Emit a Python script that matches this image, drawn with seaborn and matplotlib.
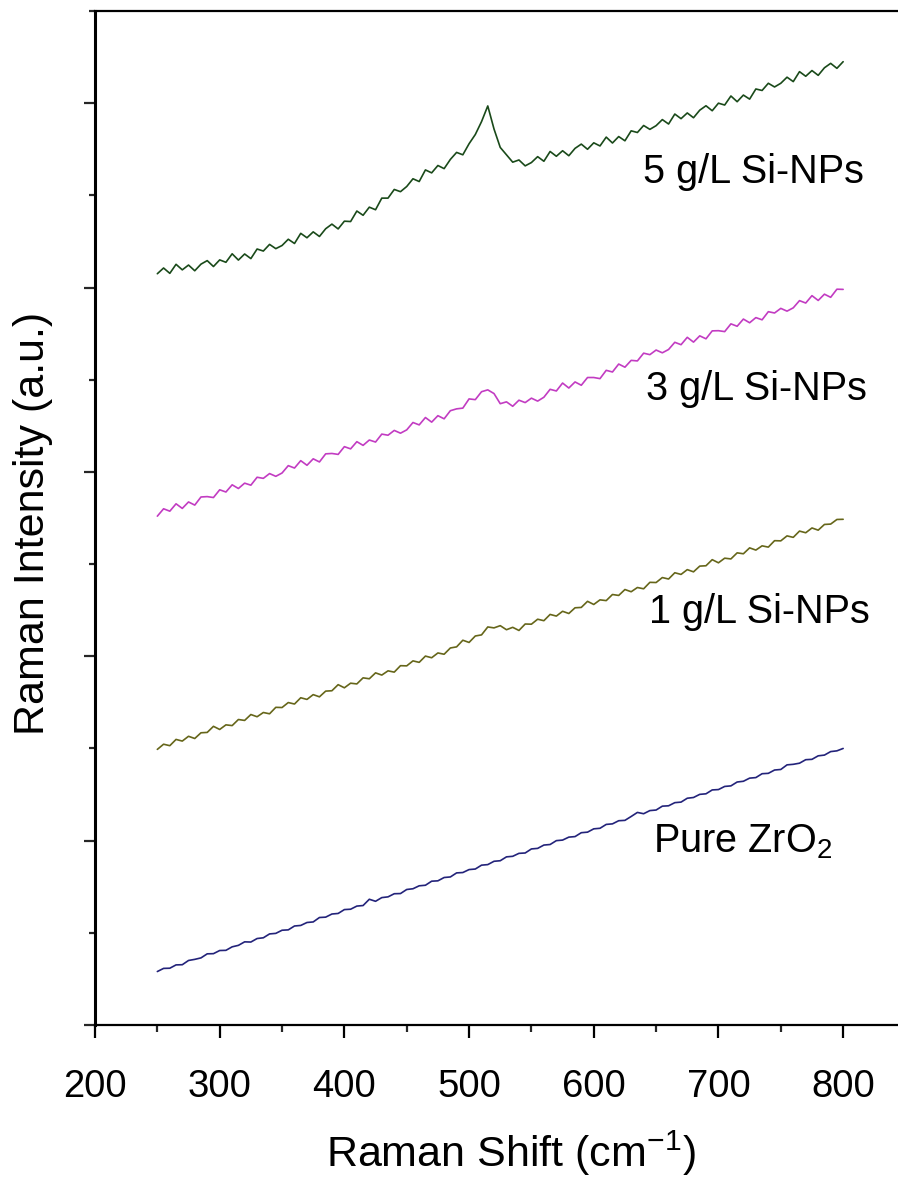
import matplotlib
matplotlib.use("Agg")
import matplotlib.pyplot as plt
from matplotlib.ticker import MultipleLocator
import pandas as pd
import seaborn as sns
import numpy as np

# Raman shift axis (cm-1), 250..800 in steps of 5
shift = list(range(250, 801, 5))

pure_zro2 = [
    0.290, 0.307, 0.308, 0.326, 0.327, 0.350, 0.356, 0.364, 0.386, 0.387,
    0.404, 0.405, 0.424, 0.432, 0.451, 0.450, 0.469, 0.473, 0.494, 0.497,
    0.514, 0.516, 0.537, 0.540, 0.556, 0.559, 0.583, 0.585, 0.602, 0.605,
    0.626, 0.628, 0.645, 0.648, 0.682, 0.671, 0.691, 0.695, 0.712, 0.713,
    0.735, 0.739, 0.755, 0.758, 0.780, 0.782, 0.800, 0.803, 0.825, 0.827,
    0.843, 0.846, 0.867, 0.870, 0.888, 0.891, 0.912, 0.915, 0.931, 0.933,
    0.955, 0.958, 0.976, 0.979, 1.000, 1.003, 1.019, 1.022, 1.043, 1.046,
    1.064, 1.067, 1.088, 1.091, 1.108, 1.110, 1.131, 1.153, 1.146, 1.163,
    1.166, 1.187, 1.189, 1.206, 1.209, 1.230, 1.234, 1.251, 1.254, 1.275,
    1.277, 1.294, 1.297, 1.318, 1.322, 1.339, 1.342, 1.363, 1.365, 1.383,
    1.386, 1.411, 1.414, 1.420, 1.439, 1.441, 1.460, 1.464, 1.483, 1.487,
    1.500,
]

si_1gl = [
    1.495, 1.523, 1.515, 1.549, 1.540, 1.566, 1.554, 1.585, 1.587, 1.620,
    1.603, 1.628, 1.624, 1.657, 1.652, 1.684, 1.672, 1.695, 1.688, 1.723,
    1.722, 1.749, 1.741, 1.775, 1.766, 1.792, 1.780, 1.811, 1.813, 1.846,
    1.829, 1.854, 1.850, 1.883, 1.878, 1.910, 1.898, 1.921, 1.914, 1.949,
    1.948, 1.975, 1.967, 2.001, 1.992, 2.018, 2.011, 2.045, 2.051, 2.087,
    2.075, 2.110, 2.116, 2.159, 2.154, 2.166, 2.144, 2.157, 2.140, 2.175,
    2.174, 2.201, 2.193, 2.227, 2.218, 2.244, 2.232, 2.263, 2.265, 2.298,
    2.281, 2.306, 2.302, 2.335, 2.330, 2.362, 2.350, 2.373, 2.366, 2.401,
    2.400, 2.427, 2.419, 2.453, 2.444, 2.470, 2.458, 2.489, 2.491, 2.524,
    2.507, 2.532, 2.528, 2.561, 2.556, 2.588, 2.576, 2.599, 2.592, 2.627,
    2.626, 2.653, 2.645, 2.679, 2.670, 2.696, 2.684, 2.715, 2.717, 2.742,
    2.743,
]

si_3gl = [
    2.760, 2.800, 2.787, 2.827, 2.802, 2.837, 2.820, 2.864, 2.866, 2.861,
    2.903, 2.891, 2.930, 2.910, 2.939, 2.928, 2.971, 2.965, 2.991, 2.976,
    2.994, 3.034, 3.021, 3.061, 3.036, 3.071, 3.054, 3.098, 3.100, 3.095,
    3.137, 3.125, 3.164, 3.144, 3.173, 3.162, 3.205, 3.199, 3.225, 3.210,
    3.228, 3.268, 3.255, 3.295, 3.270, 3.305, 3.288, 3.332, 3.342, 3.346,
    3.396, 3.392, 3.435, 3.445, 3.425, 3.370, 3.380, 3.356, 3.389, 3.376,
    3.400, 3.384, 3.405, 3.448, 3.439, 3.482, 3.455, 3.488, 3.470, 3.512,
    3.512, 3.506, 3.551, 3.542, 3.585, 3.568, 3.605, 3.602, 3.644, 3.636,
    3.661, 3.646, 3.664, 3.703, 3.690, 3.730, 3.704, 3.738, 3.722, 3.765,
    3.766, 3.761, 3.803, 3.790, 3.829, 3.809, 3.837, 3.825, 3.869, 3.862,
    3.887, 3.872, 3.890, 3.929, 3.916, 3.956, 3.930, 3.964, 3.947, 3.991,
    3.990,
]

si_5gl = [
    4.075, 4.106, 4.077, 4.126, 4.096, 4.122, 4.091, 4.127, 4.146, 4.114,
    4.150, 4.137, 4.183, 4.149, 4.182, 4.157, 4.209, 4.198, 4.234, 4.211,
    4.228, 4.262, 4.239, 4.294, 4.270, 4.302, 4.277, 4.319, 4.344, 4.318,
    4.360, 4.358, 4.415, 4.392, 4.436, 4.422, 4.485, 4.485, 4.532, 4.520,
    4.548, 4.590, 4.575, 4.638, 4.622, 4.662, 4.645, 4.695, 4.733, 4.720,
    4.780, 4.830, 4.900, 4.985, 4.860, 4.760, 4.720, 4.680, 4.692, 4.660,
    4.678, 4.710, 4.685, 4.738, 4.712, 4.742, 4.715, 4.755, 4.778, 4.750,
    4.785, 4.768, 4.816, 4.784, 4.819, 4.796, 4.850, 4.841, 4.879, 4.858,
    4.878, 4.911, 4.887, 4.941, 4.916, 4.947, 4.921, 4.962, 4.986, 4.959,
    5.000, 4.990, 5.039, 5.008, 5.044, 5.022, 5.077, 5.069, 5.108, 5.088,
    5.108, 5.141, 5.117, 5.171, 5.146, 5.177, 5.151, 5.192, 5.216, 5.189,
    5.225,
]

series_names = ["Pure ZrO2", "1 g/L Si-NPs", "3 g/L Si-NPs", "5 g/L Si-NPs"]
series_values = [pure_zro2, si_1gl, si_3gl, si_5gl]
label_texts = ["Pure ZrO$_2$", "1 g/L Si-NPs", "3 g/L Si-NPs", "5 g/L Si-NPs"]
label_x = [653, 649, 646, 643]
label_y = [0.938, 2.180, 3.389, 4.566]
colors = ["#23237a", "#66661a", "#c23cc2", "#1a4a1a"]

frames = []
for name, vals in zip(series_names, series_values):
    frames.append(pd.DataFrame({"shift": shift, "intensity": vals, "sample": name}))
df = pd.concat(frames, ignore_index=True)

sns.set_theme(style="ticks")
plt.rcParams["font.family"] = ["Liberation Sans", "DejaVu Sans"]
plt.rcParams["mathtext.fontset"] = "custom"
plt.rcParams["mathtext.rm"] = "Liberation Sans"
plt.rcParams["mathtext.it"] = "Liberation Sans:italic"

fig = plt.figure(figsize=(8.98, 11.81), dpi=100)
ax = fig.add_axes([95 / 898, 156 / 1181, 803 / 898, 1014 / 1181])

sns.lineplot(data=df, x="shift", y="intensity", hue="sample",
             palette=dict(zip(series_names, colors)), estimator=None,
             linewidth=1.2, legend=False, ax=ax)

for txt, lx, ly in zip(label_texts, label_x, label_y):
    # label x positions were read in pixels, convert to data units
    ax.text(200 + (lx - 95) / 1.2467, ly, txt, fontsize=28.5,
            ha="left", va="baseline", color="black")

ax.set_xlim(200, 844)
ax.set_ylim(0, 5.5)
ax.xaxis.set_major_locator(MultipleLocator(100))
ax.xaxis.set_minor_locator(MultipleLocator(50))
ax.yaxis.set_major_locator(MultipleLocator(1))
ax.yaxis.set_minor_locator(MultipleLocator(0.5))
ax.set_yticklabels([])

ax.tick_params(axis="x", which="major", direction="out", length=9.5, width=1.6,
               labelsize=27.5, pad=22, colors="black")
ax.tick_params(axis="x", which="minor", direction="out", length=5, width=1.6)
ax.tick_params(axis="y", which="major", direction="out", length=8, width=1.6)
ax.tick_params(axis="y", which="minor", direction="out", length=4, width=1.6)

for side in ["left", "bottom", "top"]:
    ax.spines[side].set_color("black")
    ax.spines[side].set_linewidth(1.6)
ax.spines["left"].set_linewidth(2.2)
ax.spines["right"].set_visible(False)

ax.set_xlabel("Raman Shift (cm$^{\\mathrm{-1}}$)", fontsize=31, color="black")
ax.set_ylabel("Raman Intensity (a.u.)", fontsize=31, color="black")
ax.xaxis.set_label_coords(0.518, -0.102)
ax.yaxis.set_label_coords(-0.052, 0.495)

fig.savefig("out.png", dpi=100)
